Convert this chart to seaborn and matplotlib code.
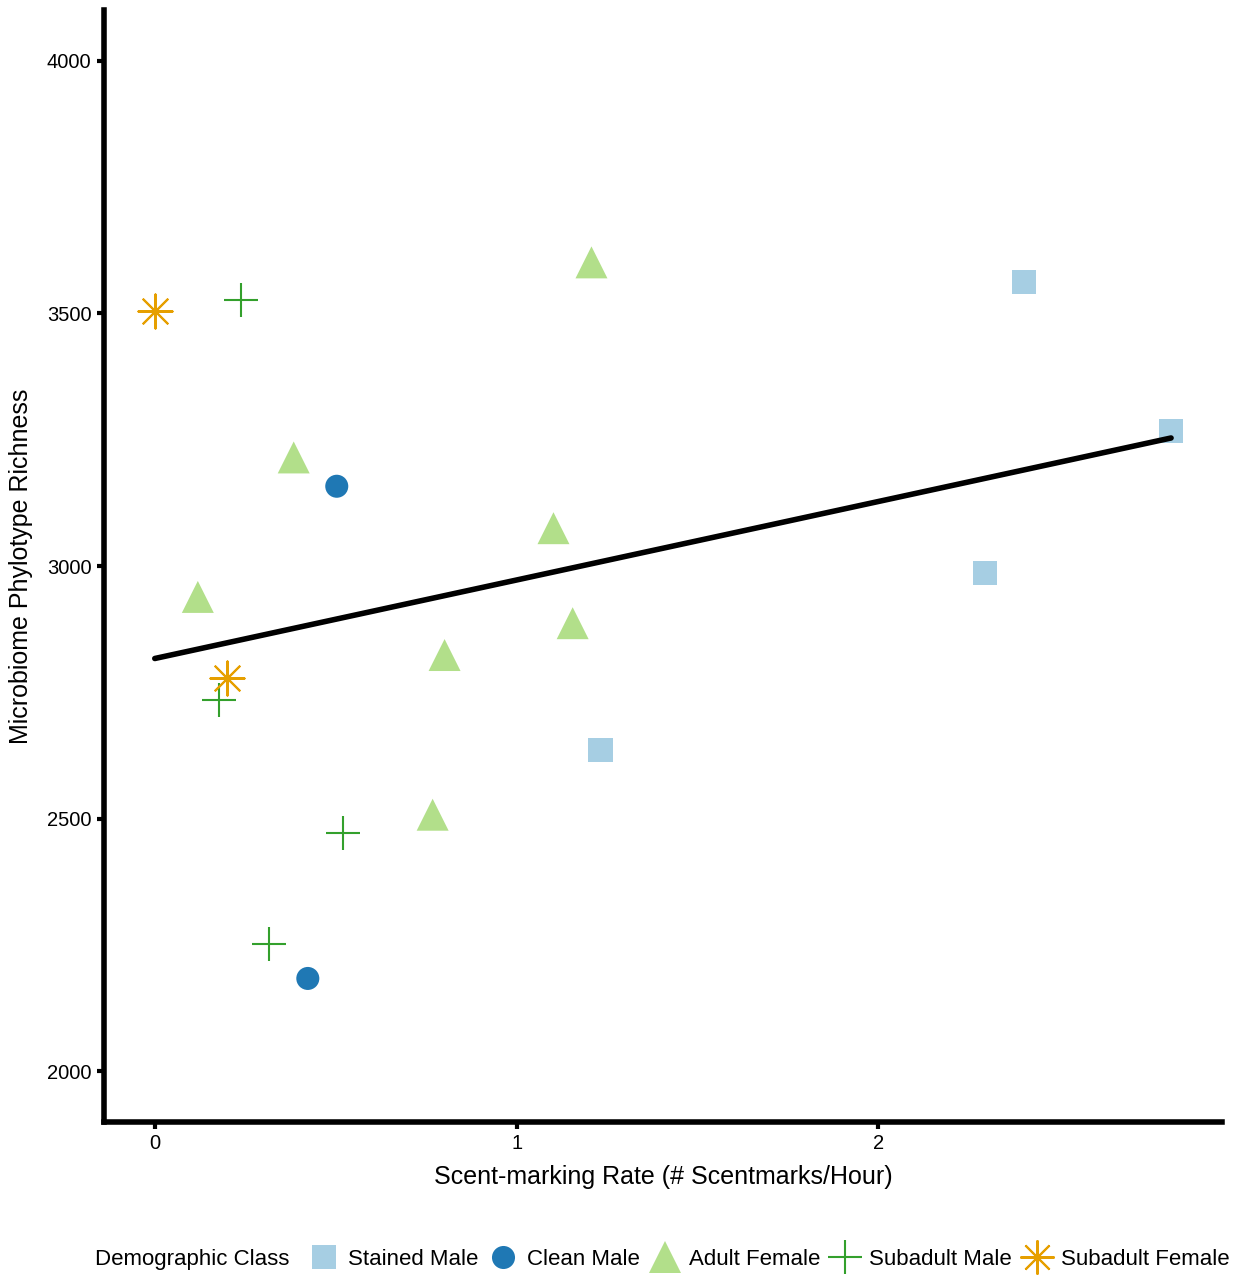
import matplotlib
matplotlib.use("Agg")
import matplotlib.pyplot as plt
import seaborn as sns
import pandas as pd
import numpy as np
from matplotlib.lines import Line2D
from matplotlib.offsetbox import HPacker

classes = ["Stained Male", "Clean Male", "Adult Female", "Subadult Male", "Subadult Female"]

stained_x = [2.403, 2.809, 2.296, 1.232]
stained_y = [3563, 3267, 2986, 2636]
clean_x = [0.503, 0.423]
clean_y = [3158, 2184]
adultf_x = [1.207, 0.384, 1.102, 0.119, 1.155, 0.801, 0.768]
adultf_y = [3601, 3215, 3075, 2939, 2887, 2824, 2508]
subm_x = [0.238, 0.177, 0.519, 0.315]
subm_y = [3526, 2735, 2472, 2253]
subf_x = [0.0, 0.199]
subf_y = [3504, 2779]

colors = {"Stained Male": "#A6CEE3", "Clean Male": "#1F78B4", "Adult Female": "#B2DF8A",
          "Subadult Male": "#33A02C", "Subadult Female": "#E69F00"}
markers = {"Stained Male": "s", "Clean Male": "o", "Adult Female": "^",
           "Subadult Male": "+", "Subadult Female": (8, 2, 0)}
sizes = {"Stained Male": 300, "Clean Male": 275, "Adult Female": 530,
         "Subadult Male": 600, "Subadult Female": 600}

rows = []
for name, xs, ys in [("Stained Male", stained_x, stained_y), ("Clean Male", clean_x, clean_y),
                     ("Adult Female", adultf_x, adultf_y), ("Subadult Male", subm_x, subm_y),
                     ("Subadult Female", subf_x, subf_y)]:
    for x, y in zip(xs, ys):
        rows.append({"rate": x, "richness": y, "cls": name})
df = pd.DataFrame(rows)

sns.set_theme(style="ticks")
plt.rcParams['font.family'] = ['Liberation Sans', 'DejaVu Sans']

fig = plt.figure(figsize=(12.33, 12.77), dpi=100)
ax = fig.add_axes([0.0843, 0.1214, 0.9067, 0.8706])

for name in classes:
    sub = df[df.cls == name]
    m = markers[name]
    filled = name in ("Stained Male", "Clean Male", "Adult Female")
    if filled:
        sns.scatterplot(data=sub, x="rate", y="richness", ax=ax, marker=m, s=sizes[name],
                        color=colors[name], edgecolor="none", linewidth=0, zorder=3)
    else:
        ax.scatter(sub.rate, sub.richness, marker=m, s=sizes[name], color=colors[name],
                   linewidths=1.5, zorder=3)

sns.regplot(data=df, x="rate", y="richness", ax=ax, scatter=False, ci=None,
            line_kws={"color": "black", "linewidth": 4, "zorder": 4}, truncate=True)

ax.set_xlim(-0.1405, 2.9495)
ax.set_ylim(1900, 4100)
ax.set_xticks([0, 1, 2])
ax.set_yticks([2000, 2500, 3000, 3500, 4000])
ax.tick_params(axis="both", width=3, length=5, labelsize=14.5, color="black", labelcolor="black", pad=4)
for s in ["left", "bottom"]:
    ax.spines[s].set_linewidth(4)
    ax.spines[s].set_color("black")
sns.despine(ax=ax)
ax.set_xlabel("Scent-marking Rate (# Scentmarks/Hour)", fontsize=18, labelpad=8, color="black")
ax.set_ylabel("Microbiome Phylotype Richness", fontsize=18, labelpad=10, color="black")

handles = []
for name in classes:
    filled = name in ("Stained Male", "Clean Male", "Adult Female")
    ms = {"Stained Male": 17.3, "Clean Male": 16.6, "Adult Female": 23, "Subadult Male": 24.5, "Subadult Female": 24.5}[name]
    handles.append(Line2D([], [], linestyle="none", marker=markers[name], markersize=ms,
                          color=colors[name], markeredgewidth=(0 if filled else 1.5),
                          markeredgecolor=colors[name]))
leg = fig.legend(handles, classes, loc="lower center", bbox_to_anchor=(0.537, -0.01), ncol=5,
                 frameon=False, fontsize=16, title="Demographic Class", title_fontsize=16,
                 handletextpad=0.38, columnspacing=0.42, handlelength=1.4, labelcolor="black",
                 borderaxespad=0.5)
leg.get_title().set_color("black")
title_box = leg._legend_title_box
entries = leg._legend_handle_box
leg._legend_box._children = [HPacker(children=[title_box, entries], align="center", pad=0, sep=14)]

fig.savefig("out.png", dpi=100)
